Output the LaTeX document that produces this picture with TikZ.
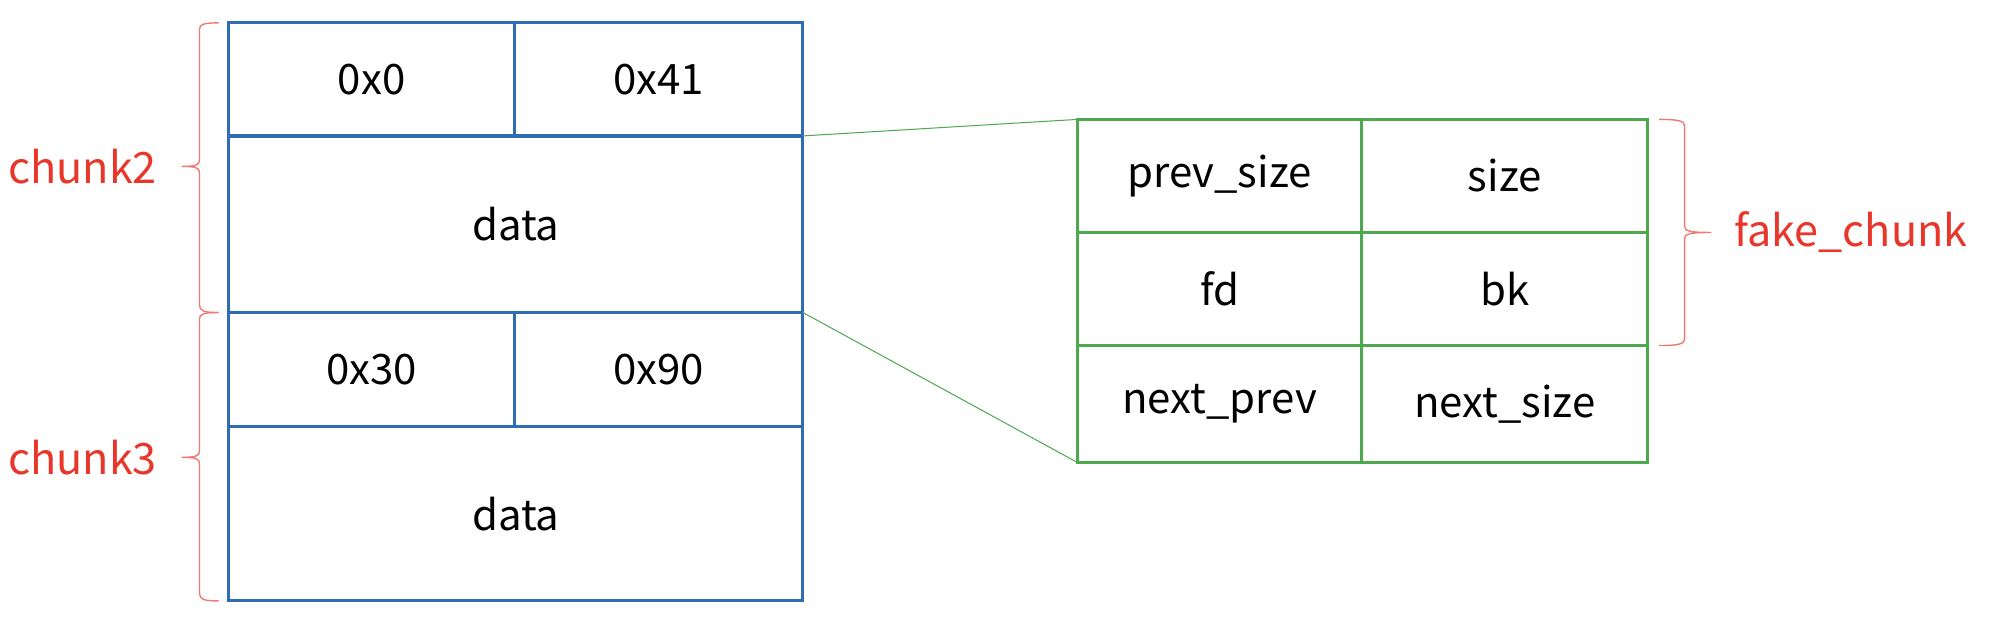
\documentclass[tikz,border=0pt]{standalone}
\usepackage{fontspec}
\setmainfont{Noto Sans CJK SC}
\definecolor{cblue}{HTML}{2E6DB4}
\definecolor{cgreen}{HTML}{4EA84E}
\definecolor{cred}{HTML}{E8372A}
\definecolor{cbrace}{HTML}{EE7B72}
\begin{document}
\begin{tikzpicture}[x=0.5pt,y=-0.5pt,
  bcell/.style={draw=cblue,line width=1.25pt,inner sep=0pt,outer sep=0pt,font=\fontsize{16.5}{20}\selectfont},
  gcell/.style={draw=cgreen,line width=1.25pt,inner sep=0pt,outer sep=0pt,font=\fontsize{16.5}{20}\selectfont},
  lbl/.style={text=cred,inner sep=0pt,font=\fontsize{17}{20}\selectfont},
  conn/.style={draw=cgreen,line width=0.4pt},
  brc/.style={draw=cbrace,line width=0.55pt}]
\useasboundingbox (0,0) rectangle (1568,485);
% blue chunks
\node[bcell,minimum width=112.5pt,minimum height=44.5pt] (a1) at (292.5,62.5) {0x0};
\node[bcell,minimum width=113.5pt,minimum height=44.5pt] (a2) at (518.5,62.5) {0x41};
\node[bcell,minimum width=226pt,minimum height=69.5pt] (a3) at (406,176.5) {data};
\node[bcell,minimum width=112.5pt,minimum height=45pt] (a4) at (292.5,291) {0x30};
\node[bcell,minimum width=113.5pt,minimum height=45pt] (a5) at (518.5,291) {0x90};
\node[bcell,minimum width=226pt,minimum height=68.5pt] (a6) at (406,404.5) {data};
% green fake chunk
\node[gcell,minimum width=112pt,minimum height=44.5pt] (g1) at (960,138.5) {prev\_size};
\node[gcell,minimum width=112.5pt,minimum height=44.5pt] (g2) at (1184.5,138.5) {size};
\node[gcell,minimum width=112pt,minimum height=44.5pt] (g3) at (960,227.5) {fd};
\node[gcell,minimum width=112.5pt,minimum height=44.5pt] (g4) at (1184.5,227.5) {bk};
\node[gcell,minimum width=112pt,minimum height=46pt] (g5) at (960,318) {next\_prev};
\node[gcell,minimum width=112.5pt,minimum height=46pt] (g6) at (1184.5,318) {next\_size};
% connectors
\draw[conn] (a3.north east) -- (g1.north west);
\draw[conn] (a3.south east) -- (g5.south west);
% labels
\node[lbl] (l2) at (65,131) {chunk2};
\node[lbl] (l3) at (65,360) {chunk3};
\node[lbl] (lf) at (1457,183) {fake\_chunk};
% braces
\draw[brc] (172,18) .. controls (161,18) and (157,19) .. (157,23) -- (157,126) .. controls (157,130) and (154,131) .. (143,131)
  .. controls (154,131) and (157,132) .. (157,136) -- (157,240) .. controls (157,245) and (161,246) .. (172,246);
\draw[brc] (172,246) .. controls (161,246) and (157,247) .. (157,251) -- (157,355) .. controls (157,359) and (154,360) .. (143,360)
  .. controls (154,360) and (157,361) .. (157,365) -- (157,467) .. controls (157,472) and (161,473) .. (172,473);
\draw[brc] (1306,94) .. controls (1320,94) and (1326,95) .. (1326,99) -- (1326,178) .. controls (1326,182) and (1330,183) .. (1347,183)
  .. controls (1330,183) and (1326,184) .. (1326,188) -- (1326,267) .. controls (1326,271) and (1320,272) .. (1306,272);
\end{tikzpicture}
\end{document}
